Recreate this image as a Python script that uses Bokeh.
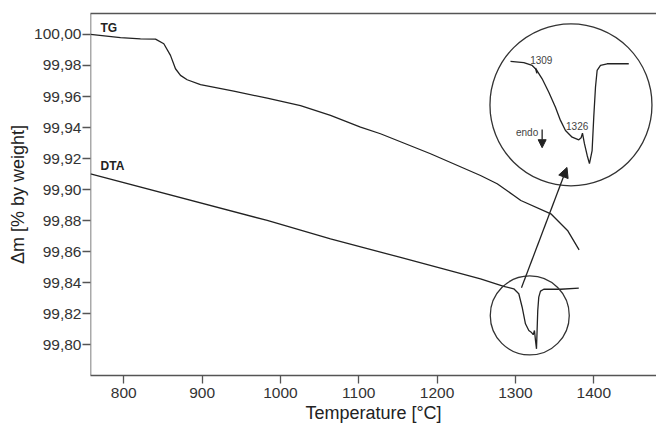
from bokeh.plotting import figure
from bokeh.models import Range1d, FixedTicker, LinearAxis, Arrow, NormalHead, Span
from bokeh.core.properties import value
from bokeh.embed import file_html
from bokeh.resources import INLINE

# ---------------- data ----------------
x_ticks = [800, 900, 1000, 1100, 1200, 1300, 1400]
x_tick_labels = ["800", "900", "1000", "1100", "1200", "1300", "1400"]
y_ticks = [99.80, 99.82, 99.84, 99.86, 99.88, 99.90, 99.92, 99.94, 99.96, 99.98, 100.00]
y_tick_labels = ["99,80", "99,82", "99,84", "99,86", "99,88", "99,90",
                 "99,92", "99,94", "99,96", "99,98", "100,00"]
x_start, x_end = 757.5, 1480.1
y_start, y_end = 99.7802, 100.0135

# TG curve (mass change, %)
tg_temp = [757.5, 795.8, 821.3, 840.5, 851.1, 859.6, 866.0, 872.4, 880.9, 897.9,
           940.4, 983.1, 1025.6, 1063.9, 1102.2, 1127.7, 1191.6, 1255.4, 1276.7,
           1298.0, 1306.9, 1345.2, 1366.5, 1381.3]
tg_mass = [100.000, 99.9979, 99.9972, 99.9970, 99.9940, 99.9865, 99.9779, 99.9736,
           99.9708, 99.9676, 99.9635, 99.9589, 99.9542, 99.9478, 99.9403, 99.9360,
           99.9231, 99.9091, 99.9038, 99.8962, 99.8930, 99.8844, 99.8737, 99.8612]

# DTA curve (plotted on the same scale)
dta_temp = [757.5, 983.1, 1063.9, 1153.3, 1255.4, 1285.1, 1297.9, 1304.3, 1308.6,
            1312.8, 1317.1, 1320.1, 1322.7, 1324.3, 1325.6, 1326.9, 1328.5, 1329.8,
            1332.0, 1336.2, 1357.5, 1380.9]
dta_val = [99.9102, 99.8801, 99.8683, 99.8563, 99.8425, 99.8376, 99.8361, 99.8329,
           99.8242, 99.8135, 99.8092, 99.8081, 99.8065, 99.8092, 99.8028, 99.7974,
           99.8221, 99.8307, 99.8346, 99.8358, 99.8358, 99.8365]

# magnified DTA peak (inset drawn inside the big circle)
inset_temp = [1293.7, 1310.7, 1321.4, 1326.9, 1334.1, 1342.6, 1351.1, 1357.5, 1363.9,
              1372.4, 1380.9, 1383.9, 1385.6, 1388.1, 1391.6, 1394.5, 1397.9, 1400.0,
              1402.2, 1404.3, 1408.6, 1417.1, 1444.7]
inset_val = [99.9826, 99.9818, 99.9800, 99.9772, 99.9714, 99.9628, 99.9531, 99.9446,
             99.9381, 99.9338, 99.9321, 99.9334, 99.9364, 99.9296, 99.9220, 99.9167,
             99.9252, 99.9467, 99.9660, 99.9768, 99.9800, 99.9811, 99.9811]

# circles (zoom region and magnified view)
circle_temp = [1318.3, 1370.9]
circle_val = [99.8189, 99.9546]
circle_size = [79, 162]

# onset mark on inset curve
onset_temp = [1325.6, 1327.5]
onset_val = [99.9784, 99.9749]

# annotations
inset_labels = ["1309", "1326", "endo"]
inset_label_temp = [1333.0, 1378.8, 1314.9]
inset_label_val = [99.9838, 99.9412, 99.9367]

curve_labels = ["TG", "DTA"]
curve_label_temp = [770.3, 770.3]
curve_label_val = [100.0042, 99.9149]

zoom_arrow = [1307.7, 99.8367, 1365.8, 99.9143]
endo_arrow = [1334.1, 99.9388, 1334.1, 99.9270]

# ---------------- figure ----------------
FONT = "Liberation Sans"
INK = "#222222"
AXIS = "#555555"

p = figure(width=656, height=427, output_backend="svg", toolbar_location=None,
           x_range=Range1d(x_start, x_end), y_range=Range1d(y_start, y_end),
           min_border_left=90, min_border_right=0, min_border_top=13,
           min_border_bottom=52, x_axis_label="Temperature [°C]",
           y_axis_label="Δm [% by weight]")
# the frame is open on the right (cropped figure)
p.outline_line_color = "white"
p.outline_line_width = 1
p.grid.visible = False
p.background_fill_color = "white"
p.border_fill_color = "white"

for ax in (p.xaxis[0], p.yaxis[0]):
    ax.axis_line_color = AXIS
    ax.axis_line_width = 1.5
    ax.major_tick_line_color = AXIS
    ax.major_tick_line_width = 1.3
    ax.major_tick_out = 8
    ax.major_tick_in = 0
    ax.minor_tick_line_color = None
    ax.major_label_text_font = FONT
    ax.major_label_text_font_size = "15.5px"
    ax.major_label_text_color = "#333333"
    ax.axis_label_text_font = FONT
    ax.axis_label_text_font_size = "18px"
    ax.axis_label_text_font_style = "normal"
    ax.axis_label_text_color = "#222222"

p.xaxis.ticker = FixedTicker(ticks=x_ticks)
p.xaxis.major_label_overrides = dict(zip(x_ticks, x_tick_labels))
p.xaxis.major_label_standoff = 4
p.xaxis.axis_label_standoff = 2

p.yaxis.ticker = FixedTicker(ticks=y_ticks)
p.yaxis.major_label_overrides = dict(zip(y_ticks, y_tick_labels))
p.yaxis.major_label_standoff = 1
p.yaxis.axis_label_standoff = 3
# left frame edge drawn as a span (avoids a stray line at the right edge)
p.yaxis.axis_line_color = None
p.add_layout(Span(location=x_start, dimension="height",
                  line_color=AXIS, line_width=1.5))

# top border as a bare axis
top = LinearAxis(axis_line_color=AXIS, axis_line_width=1.5,
                 major_tick_line_color=None, minor_tick_line_color=None,
                 major_label_text_font_size="0px", major_label_text_color=None,
                 ticker=FixedTicker(ticks=[]))
p.add_layout(top, "above")

# curves
p.line(tg_temp, tg_mass, line_color=INK, line_width=1.3)
p.line(dta_temp, dta_val, line_color=INK, line_width=1.3)
p.line(inset_temp, inset_val, line_color=INK, line_width=1.3)
p.segment(x0=[onset_temp[0]], y0=[onset_val[0]], x1=[onset_temp[1]], y1=[onset_val[1]],
          line_color=INK, line_width=1.5)

# circles
p.scatter(circle_temp, circle_val, size=circle_size, marker="circle",
          fill_color=None, line_color="#333333", line_width=1.3)

# arrows
p.add_layout(Arrow(end=NormalHead(size=10, fill_color=INK, line_color=INK),
                   x_start=zoom_arrow[0], y_start=zoom_arrow[1],
                   x_end=zoom_arrow[2], y_end=zoom_arrow[3],
                   line_color=INK, line_width=1.3))
p.add_layout(Arrow(end=NormalHead(size=8, fill_color=INK, line_color=INK),
                   x_start=endo_arrow[0], y_start=endo_arrow[1],
                   x_end=endo_arrow[2], y_end=endo_arrow[3],
                   line_color=INK, line_width=1.3))

# labels
p.text(x=inset_label_temp, y=inset_label_val, text=inset_labels,
       text_font=value(FONT), text_font_size=value("10px"),
       text_align="center", text_baseline="middle", text_color="#444444")
p.text(x=curve_label_temp, y=curve_label_val, text=curve_labels,
       text_font=value(FONT), text_font_size=value("12px"), text_font_style="bold",
       text_align="left", text_baseline="middle", text_color=INK)

open("out.html", "w").write(file_html(p, INLINE))
